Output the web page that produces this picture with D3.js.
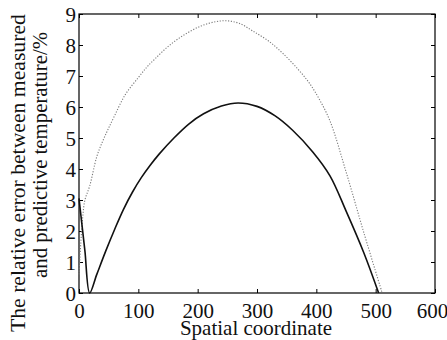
<!DOCTYPE html>
<html>
<head>
<meta charset="utf-8">
<script src="https://cdn.jsdelivr.net/npm/d3@7"></script>
<style>
  html, body { margin: 0; padding: 0; background: #fff; }
  svg { display: block; }
</style>
</head>
<body>
<svg id="chart" width="447" height="340"></svg>
<script>
// ---- data ----
const xTicks = [0, 100, 200, 300, 400, 500, 600];
const yTicks = [0, 1, 2, 3, 4, 5, 6, 7, 8, 9];

const solidX = [0, 5, 10, 18, 30, 45, 60, 75, 90, 105, 120, 135, 160, 185, 210, 240, 268, 300, 330, 360, 394, 423, 450, 480, 505];
const solidY = [3.05, 2.2, 1.35, 0, 0.6, 1.35, 2.05, 2.7, 3.25, 3.72, 4.12, 4.48, 5.0, 5.45, 5.78, 6.03, 6.13, 6.02, 5.72, 5.25, 4.55, 3.78, 2.65, 1.3, 0];

const dotX = [0, 3, 6, 10, 18, 30, 40, 49, 60, 78, 100, 114, 128, 150, 175, 204, 230, 249, 270, 293, 320, 344, 370, 389, 405, 423, 451, 480, 511];
const dotY = [0.6, 1.6, 2.4, 3.0, 3.45, 4.4, 4.9, 5.28, 5.72, 6.4, 6.95, 7.28, 7.55, 7.95, 8.3, 8.6, 8.75, 8.78, 8.7, 8.45, 8.12, 7.72, 7.2, 6.75, 6.25, 5.55, 3.85, 1.95, 0];

const xLabel = "Spatial coordinate";
const yLabel1 = "The relative error between measured";
const yLabel2 = "and predictive temperature/%";

// ---- chart ----
const FONT = '"Liberation Serif"';
const svg = d3.select("#chart");
const L = 79, R = 435, T = 14, B = 293;
const x = d3.scaleLinear().domain([0, 600]).range([L, R]);
const y = d3.scaleLinear().domain([0, 9]).range([B, T]);

const tickLen = 4;
const gx = svg.append("g").attr("transform", `translate(0,${B})`)
  .call(d3.axisBottom(x).tickValues(xTicks).tickSizeInner(-tickLen).tickSizeOuter(0).tickPadding(10));
const gy = svg.append("g").attr("transform", `translate(${L},0)`)
  .call(d3.axisLeft(y).tickValues(yTicks).tickSizeInner(-tickLen).tickSizeOuter(0).tickPadding(3));
const gt = svg.append("g").attr("transform", `translate(0,${T})`)
  .call(d3.axisTop(x).tickValues(xTicks).tickSizeInner(-tickLen).tickSizeOuter(0).tickFormat(""));
const gr = svg.append("g").attr("transform", `translate(${R},0)`)
  .call(d3.axisRight(y).tickValues(yTicks).tickSizeInner(-tickLen).tickSizeOuter(0).tickFormat(""));

[gx, gy, gt, gr].forEach(g => {
  g.attr("font-family", null).attr("font-size", null);
  g.select(".domain").remove();
  g.selectAll(".tick line").attr("stroke", "#000").attr("stroke-width", 1);
  g.selectAll(".tick text").style("font-family", FONT).style("font-size", "21px").attr("fill", "#111");
});
gy.selectAll(".tick text").attr("dy", "0.35em");
gx.selectAll(".tick text").attr("dy", "0.71em");
// keep the last x label inside the window, as in the reference
gx.selectAll(".tick text").filter(d => d === 600).attr("dx", -3);

// frame
svg.append("rect").attr("x", L).attr("y", T).attr("width", R - L).attr("height", B - T)
  .attr("fill", "none").attr("stroke", "#000").attr("stroke-width", 1.2);

// curves
const line = d3.line().x(d => x(d[0])).y(d => y(d[1])).curve(d3.curveCatmullRom.alpha(0.5));
const dotData = dotX.map((v, i) => [v, dotY[i]]);
const solidData = solidX.map((v, i) => [v, solidY[i]]);

svg.append("path").datum(dotData).attr("d", line)
  .attr("fill", "none").attr("stroke", "#7a7a7a").attr("stroke-width", 1.1)
  .attr("stroke-dasharray", "1.2,1.6");
svg.append("path").datum(solidData).attr("d", line)
  .attr("fill", "none").attr("stroke", "#111").attr("stroke-width", 1.6);

// labels
svg.append("text").attr("x", (L + R) / 2 - 1).attr("y", 335)
  .style("font-family", FONT).style("font-size", "21px").attr("fill", "#111")
  .attr("text-anchor", "middle").text(xLabel);

svg.append("text").attr("transform", "translate(25,332) rotate(-90)")
  .style("font-family", FONT).style("font-size", "21.7px").attr("fill", "#111")
  .attr("text-anchor", "start").text(yLabel1);
svg.append("text").attr("transform", "translate(47,278) rotate(-90)")
  .style("font-family", FONT).style("font-size", "20.8px").attr("fill", "#111")
  .attr("text-anchor", "start").text(yLabel2);
</script>
</body>
</html>
